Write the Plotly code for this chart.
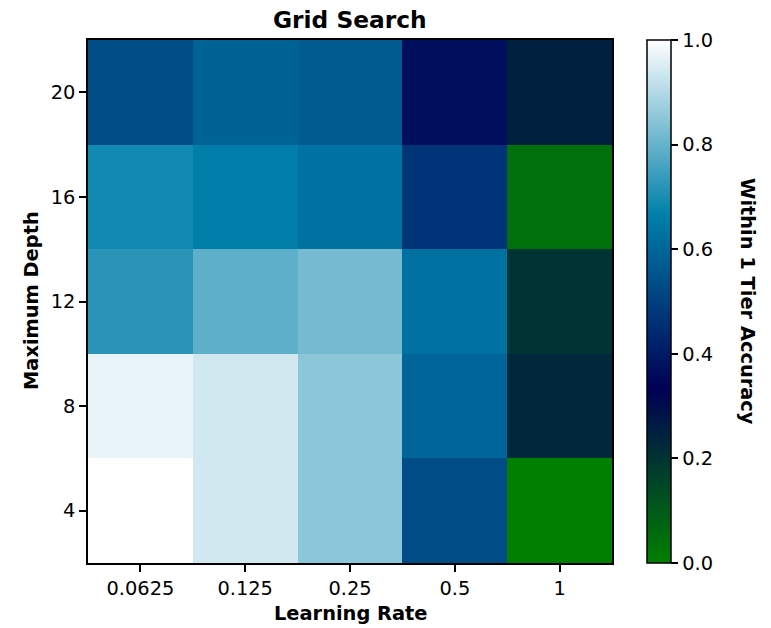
import plotly.graph_objects as go

learning_rates = ["0.0625", "0.125", "0.25", "0.5", "1"]
max_depths = ["4", "8", "12", "16", "20"]

# rows follow max_depths (bottom to top), columns follow learning_rates
acc_depth_4 = [1.00, 0.94, 0.85, 0.53, 0.00]
acc_depth_8 = [0.97, 0.94, 0.85, 0.60, 0.23]
acc_depth_12 = [0.72, 0.79, 0.82, 0.63, 0.20]
acc_depth_16 = [0.69, 0.66, 0.63, 0.47, 0.04]
acc_depth_20 = [0.53, 0.59, 0.57, 0.37, 0.25]

z = [acc_depth_4, acc_depth_8, acc_depth_12, acc_depth_16, acc_depth_20]

# matplotlib "ocean" colormap (piecewise linear)
ocean = [
    [0.0, "rgb(0,128,0)"],
    [1 / 3, "rgb(0,0,85)"],
    [2 / 3, "rgb(0,128,170)"],
    [1.0, "rgb(255,255,255)"],
]

FONT = "DejaVu Sans"
FS = 19.4
L, T, PW, PH = 88, 40, 524, 523

fig = go.Figure(
    go.Heatmap(
        x=learning_rates,
        y=max_depths,
        z=z,
        zmin=0,
        zmax=1,
        colorscale=ocean,
        colorbar=dict(
            x=(647 - L) / PW,
            xanchor="left",
            y=0,
            yanchor="bottom",
            len=1,
            lenmode="fraction",
            thickness=24,
            thicknessmode="pixels",
            outlinewidth=1.5,
            outlinecolor="black",
            ticks="outside",
            ticklen=7,
            tickwidth=1.5,
            tickcolor="black",
            tickvals=[0, 0.2, 0.4, 0.6, 0.8, 1.0],
            ticktext=["0.0", "0.2", "0.4", "0.6", "0.8", "1.0"],
            tickfont=dict(family=FONT, size=FS, color="black"),
            xpad=0,
            ypad=0,
        ),
    )
)

axis_common = dict(
    type="category",
    showline=True,
    linecolor="black",
    linewidth=1.5,
    mirror=True,
    ticks="outside",
    ticklen=7,
    tickwidth=1.5,
    tickcolor="black",
    tickfont=dict(family=FONT, size=FS, color="black"),
    showgrid=False,
    zeroline=False,
    range=[-0.5, 4.5],
)


def px_x(px):
    return (px - L) / PW


def px_y(py):
    return 1 - (py - T) / PH


fig.update_layout(
    width=771,
    height=628,
    margin=dict(l=L, r=771 - L - PW, t=T, b=628 - T - PH, autoexpand=False),
    paper_bgcolor="white",
    plot_bgcolor="white",
    font=dict(family=FONT, size=FS, color="black"),
    xaxis=axis_common,
    yaxis=axis_common,
    annotations=[
        dict(text="<b>Grid Search</b>", x=px_x(350), y=px_y(20), xref="paper", yref="paper",
             xanchor="center", yanchor="middle", showarrow=False,
             font=dict(family=FONT, size=23.3, color="black")),
        dict(text="<b>Learning Rate</b>", x=0.5, y=px_y(613), xref="paper", yref="paper",
             xanchor="center", yanchor="middle", showarrow=False,
             font=dict(family=FONT, size=FS, color="black")),
        dict(text="<b>Maximum Depth</b>", x=px_x(31), y=px_y(301), xref="paper", yref="paper",
             xanchor="center", yanchor="middle", showarrow=False, textangle=-90,
             font=dict(family=FONT, size=FS, color="black")),
        dict(text="<b>Within 1 Tier Accuracy</b>", x=px_x(748), y=px_y(301), xref="paper", yref="paper",
             xanchor="center", yanchor="middle", showarrow=False, textangle=90,
             font=dict(family=FONT, size=FS, color="black")),
    ],
)

fig.write_html("out.html", config={"displayModeBar": False})

# remove the browser's default body margin so the figure sits at the page origin
with open("out.html", "r", encoding="utf-8") as f:
    html = f.read()
html = html.replace("<head>", "<head><style>html,body{margin:0;padding:0;overflow:hidden;}</style>", 1)
with open("out.html", "w", encoding="utf-8") as f:
    f.write(html)
